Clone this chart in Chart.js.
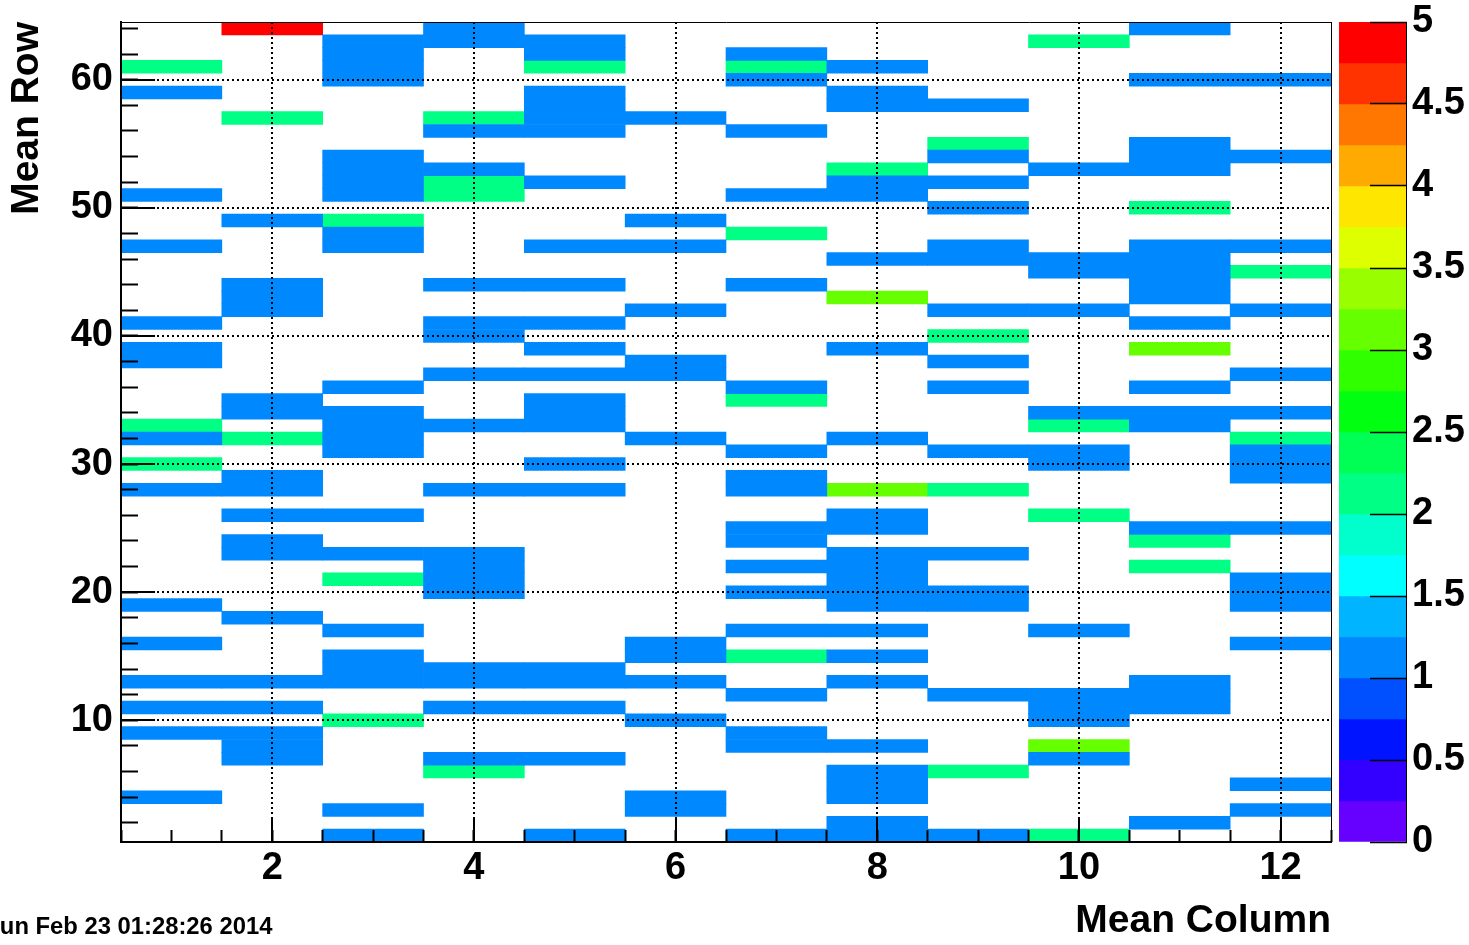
<!DOCTYPE html>
<html>
<head>
<meta charset="utf-8">
<script src="https://cdn.jsdelivr.net/npm/chart.js@4"></script>
<style>
  html, body { margin: 0; padding: 0; background: #fff; overflow: hidden; }
  #main { position: absolute; left: 0; top: 0; }
  #bar { position: absolute; left: 1331px; top: 0; }
  #stamp { position: absolute; left: -16px; top: 912px; font: bold 23.8px "Liberation Sans", Arial, sans-serif; line-height: 28px; white-space: nowrap; color: #000; }
</style>
</head>
<body>
<canvas id="main" width="1336" height="945"></canvas>
<canvas id="bar" width="138" height="945"></canvas>
<div id="stamp">Sun Feb 23 01:28:26 2014</div>
<script>
const columns = [1, 2, 3, 4, 5, 6, 7, 8, 9, 10, 11, 12];

// bin contents, one string per row, top row (64) first, '0' = empty bin
const cellCounts = [
  '050100000010', // 64
  '001110000200',
  '001010100000',
  '201020210000',
  '001000100011', // 60
  '100010010000',
  '000010011000',
  '020211000000',
  '000110100000',
  '000000002010', // 55
  '001000001011',
  '001100020110',
  '001210011000',
  '101200110000',
  '000000001020', // 50
  '012001000000',
  '001000200000',
  '101011001011',
  '000000011110',
  '000000000112', // 45
  '010110100010',
  '010000030010',
  '010001001101',
  '100110000010',
  '000100002000', // 40
  '100010010030',
  '100001001000',
  '000111000001',
  '001000101010',
  '010010200000', // 35
  '011010000111',
  '201110000210',
  '121001010002',
  '001000101101',
  '200010000101', // 30
  '010000100001',
  '110110132000',
  '000000000000',
  '011000010200',
  '000000110011', // 25
  '010000100020',
  '011100011000',
  '000100110020',
  '002100010001',
  '000100111001', // 20
  '100000011001',
  '010000000000',
  '001000110100',
  '100001000001',
  '001001210000', // 15
  '001110000000',
  '111111010010',
  '000000101110',
  '110110000110',
  '002001000100', // 10
  '110000100000',
  '010000110300',
  '010110000100',
  '000200012000',
  '000000010001', // 5
  '100001010000',
  '001001000001',
  '000000010010',
  '001010111200'  // 1
];

// colour palette of the z axis (20 levels from 0 to 5)
const paletteColors = [
  '#6600ff', '#3300ff', '#0014ff', '#0050ff', '#0088ff',
  '#00b4ff', '#00ffff', '#00ffcc', '#00ff85', '#00ff55',
  '#00ff10', '#30ff00', '#66ff00', '#99ff00', '#ddff00',
  '#ffe600', '#ffaa00', '#ff7700', '#ff3300', '#ff0000'
];
const zMax = 5;

const xMajorTicks = [2, 4, 6, 8, 10, 12];
const yMajorTicks = [10, 20, 30, 40, 50, 60];
const zTicks = [0, 0.5, 1, 1.5, 2, 2.5, 3, 3.5, 4, 4.5, 5];

const fontName = '"Liberation Sans", Arial, sans-serif';
const tickFont = {family: fontName, size: 38, weight: 'bold'};
const titleFont = {family: fontName, size: 39, weight: 'bold'};

const nRows = cellCounts.length;
const levelStep = zMax / paletteColors.length;

function colorFor(v) {
  return paletteColors[Math.min(paletteColors.length - 1, Math.floor(v / levelStep))];
}

// group bins by content so each colour is one dataset
const byValue = {};
cellCounts.forEach((line, k) => {
  const row = nRows - k;
  line.split('').forEach((ch, c) => {
    const v = Number(ch);
    if (!v) return;
    if (!byValue[v]) byValue[v] = [];
    byValue[v].push({x: columns[c], y: [row - 0.5, row + 0.5]});
  });
});

const datasets = Object.keys(byValue).map(v => ({
  data: byValue[v],
  backgroundColor: colorFor(Number(v)),
  borderWidth: 0,
  grouped: false,
  barPercentage: 1,
  categoryPercentage: 1,
  xAxisID: 'x',
  yAxisID: 'y'
}));

const half = [];
for (let v = 0.5; v <= 12.5; v += 0.5) half.push(v);
const evenRows = [];
for (let v = 2; v <= 64; v += 2) evenRows.push(v);

const setTicks = list => scale => { scale.ticks = list.map(v => ({value: v})); };
// fixed axis sizes, and no extra room for labels overhanging the plot
const fixHeight = h => s => { s.height = h; s.paddingLeft = 0; s.paddingRight = 0; };
const fixWidth = w => s => { s.width = w; s.paddingTop = 0; s.paddingBottom = 0; };

new Chart(document.getElementById('main'), {
  type: 'bar',
  data: {datasets: datasets},
  options: {
    responsive: false,
    animation: false,
    layout: {padding: {top: 22, right: 5, left: 0, bottom: 0}},
    plugins: {legend: {display: false}, tooltip: {enabled: false}},
    scales: {
      x: {
        type: 'linear', position: 'bottom', weight: 1, bounds: 'data', offset: false,
        min: 0.5, max: 12.5,
        afterBuildTicks: setTicks(xMajorTicks),
        ticks: {padding: 29, color: '#000', font: tickFont, autoSkip: false, maxRotation: 0,
          callback: v => String(v)},
        grid: {offset: false, color: '#000', lineWidth: 2, tickLength: -25, tickWidth: 2, tickColor: '#000', z: 1},
        border: {color: '#000', width: 2, dash: [2, 3], z: 1},
        title: {display: true, text: 'Mean Column', align: 'end', color: '#000', font: titleFont,
          padding: {top: 0, bottom: 0}},
        afterFit: fixHeight(103)
      },
      xMinor: {
        type: 'linear', position: 'bottom', weight: 0, bounds: 'data', offset: false,
        min: 0.5, max: 12.5,
        afterBuildTicks: setTicks(half),
        ticks: {display: false},
        grid: {offset: false, drawOnChartArea: false, tickLength: -12, tickWidth: 2, tickColor: '#000', z: 1},
        border: {display: false},
        afterFit: fixHeight(0)
      },
      y: {
        type: 'linear', position: 'left', weight: 1, bounds: 'data',
        min: 0.5, max: 64.5,
        afterBuildTicks: setTicks(yMajorTicks),
        ticks: {padding: 42, color: '#000', font: tickFont, autoSkip: false,
          callback: v => String(v)},
        grid: {color: '#000', lineWidth: 2, tickLength: -34, tickWidth: 2, tickColor: '#000', z: 1},
        border: {color: '#000', width: 2, dash: [2, 3], z: 1},
        title: {display: true, text: 'Mean Row', align: 'end', color: '#000', font: titleFont,
          padding: {top: 4, bottom: 0}},
        afterFit: fixWidth(121)
      },
      yMinor: {
        type: 'linear', position: 'left', weight: 0, bounds: 'data',
        min: 0.5, max: 64.5,
        afterBuildTicks: setTicks(evenRows),
        ticks: {display: false},
        grid: {drawOnChartArea: false, tickLength: -17, tickWidth: 2, tickColor: '#000', z: 1},
        border: {display: false},
        afterFit: fixWidth(0)
      },
      xTop: {
        type: 'linear', position: 'top', bounds: 'data', offset: false, min: 0.5, max: 12.5,
        ticks: {display: false},
        grid: {display: false, offset: false},
        border: {color: '#000', width: 1, z: 1},
        afterFit: fixHeight(0)
      },
      yRight: {
        type: 'linear', position: 'right', bounds: 'data', min: 0.5, max: 64.5,
        ticks: {display: false},
        grid: {display: false},
        border: {color: '#000', width: 1, z: 1},
        afterFit: fixWidth(0)
      }
    }
  }
});

// z-axis colour bar
new Chart(document.getElementById('bar'), {
  type: 'bar',
  data: {
    labels: ['z'],
    datasets: [{
      data: paletteColors.map((c, i) => ({x: 'z', y: [i * levelStep, (i + 1) * levelStep]})),
      backgroundColor: paletteColors,
      borderWidth: 0,
      barPercentage: 1,
      categoryPercentage: 1
    }]
  },
  options: {
    responsive: false,
    animation: false,
    layout: {padding: {top: 22, right: 0, left: 8, bottom: 103}},
    plugins: {legend: {display: false}, tooltip: {enabled: false}},
    scales: {
      x: {display: false},
      y: {
        type: 'linear', position: 'right', bounds: 'data', min: 0, max: zMax,
        afterBuildTicks: setTicks(zTicks),
        ticks: {padding: 42, color: '#000', font: tickFont, autoSkip: false,
          callback: v => String(v)},
        grid: {drawOnChartArea: false, tickLength: -36, tickWidth: 1.5, tickColor: '#000', z: 1},
        border: {color: '#000', width: 1, z: 1},
        afterFit: fixWidth(63)
      }
    }
  }
});
</script>
</body>
</html>
